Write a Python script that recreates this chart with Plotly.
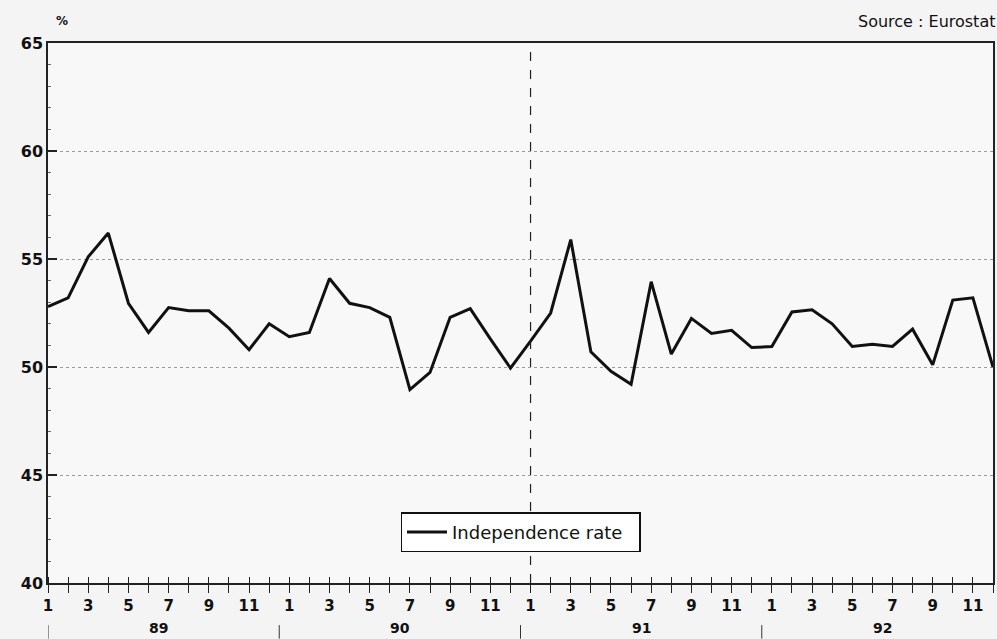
import plotly.graph_objects as go

years = ["89", "90", "91", "92"]
months = list(range(1, 13))
month_labels = [str(m) if m % 2 == 1 else "" for m in months]

rate_89 = [52.8, 53.2, 55.1, 56.2, 52.95, 51.6, 52.75, 52.6, 52.6, 51.8, 50.8, 52.0]
rate_90 = [51.4, 51.6, 54.1, 52.95, 52.75, 52.3, 48.95, 49.75, 52.3, 52.7, 51.3, 49.95]
rate_91 = [51.2, 52.5, 55.9, 50.7, 49.8, 49.2, 53.95, 50.6, 52.25, 51.55, 51.7, 50.9]
rate_92 = [50.95, 52.55, 52.65, 52.0, 50.95, 51.05, 50.95, 51.75, 50.1, 53.1, 53.2, 50.0]

values = rate_89 + rate_90 + rate_91 + rate_92
x_idx = list(range(len(values)))
tick_text = month_labels * len(years)

font_family = "DejaVu Sans, Liberation Sans, Arial, sans-serif"

fig = go.Figure()
fig.add_trace(go.Scatter(
    x=x_idx, y=values, mode="lines", name="Independence rate  ",
    line=dict(color="#111111", width=3),
))

fig.update_layout(
    width=997, height=639,
    margin=dict(l=48, r=2, t=43, b=56),
    paper_bgcolor="#f4f4f4",
    plot_bgcolor="#f8f8f8",
    font=dict(family=font_family, color="#111111"),
    showlegend=True,
    legend=dict(
        x=0.5, xanchor="center", y=0.094, yanchor="middle",
        bgcolor="#ffffff", bordercolor="#111111", borderwidth=1.5,
        font=dict(size=18, family=font_family),
        itemwidth=40,
    ),
    xaxis=dict(
        range=[0, 47], showgrid=False, zeroline=False,
        tickmode="array", tickvals=x_idx, ticktext=tick_text,
        ticks="outside", ticklen=8, tickwidth=1.2, tickcolor="#222",
        tickfont=dict(size=15, weight="bold"),
        showline=True, linecolor="#222", linewidth=1.5, mirror=True,
        minor=dict(ticks="inside", ticklen=6, tickwidth=1, tickcolor="#222",
                   tick0=0, dtick=1, showgrid=False),
    ),
    yaxis=dict(
        range=[40, 65], dtick=5, tick0=40,
        showgrid=True, gridcolor="#9a9a9a", griddash="dot", gridwidth=1,
        zeroline=False,
        ticks="inside", ticklen=9, tickwidth=1.5, tickcolor="#222",
        tickfont=dict(size=16, weight="bold"),
        showline=True, linecolor="#222", linewidth=1.5, mirror=True,
        minor=dict(ticks="inside", ticklen=3, tickwidth=1, tickcolor="#666",
                   dtick=1, showgrid=False),
    ),
)

# Dashed divider at start of 1991
fig.add_vline(x=24, line=dict(color="#222", width=1.2, dash="dash"))

# Year labels and separators
for i, yr in enumerate(years):
    fig.add_annotation(x=i * 12 + 5.5, y=-0.083, xref="x", yref="paper",
                       text=yr, showarrow=False, yanchor="middle",
                       font=dict(size=14, weight="bold"))
for sx in [0, 11.5, 23.5, 35.5]:
    fig.add_shape(type="line", xref="x", yref="paper", x0=sx, x1=sx,
                  y0=-0.078, y1=-0.103, line=dict(color="#333", width=1))

fig.add_annotation(x=0.006, y=1.04, xref="paper", yref="paper", text="%",
                   showarrow=False, xanchor="left", yanchor="middle",
                   font=dict(size=12, weight="bold"))
fig.add_annotation(x=1.004, y=1.04, xref="paper", yref="paper",
                   text="Source : Eurostat", showarrow=False,
                   xanchor="right", yanchor="middle",
                   font=dict(size=16))

fig.write_html(
    "out.html",
    config={"displayModeBar": False},
    post_script="document.body.style.margin='0';document.body.style.background='#f4f4f4';",
)
